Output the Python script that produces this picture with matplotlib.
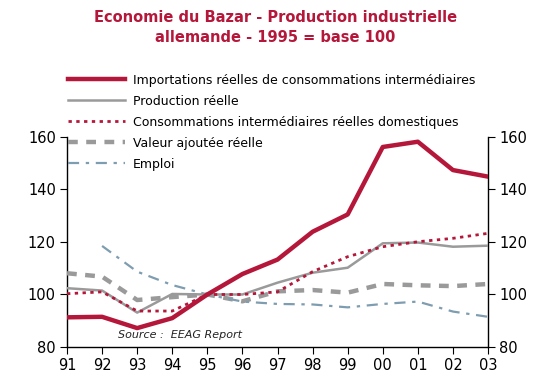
import matplotlib
matplotlib.use("Agg")
import matplotlib.pyplot as plt
import numpy as np

years = ["91", "92", "93", "94", "95", "96", "97", "98", "99", "00", "01", "02", "03"]
imports = [91.3, 91.5, 87.2, 91.0, 100.0, 107.8, 113.3, 123.9, 130.5, 156.2, 158.2, 147.4, 144.9]
production = [102.4, 101.5, 93.1, 100.2, 100.0, 100.0, 104.5, 108.3, 110.2, 119.5, 119.8, 118.2, 118.6]
domestic = [100.3, 101.0, 93.7, 93.7, 100.0, 100.0, 101.0, 108.7, 114.4, 118.2, 120.1, 121.4, 123.3]
value_added = [108.1, 106.8, 97.9, 99.0, 100.0, 97.4, 101.2, 101.7, 100.7, 104.0, 103.5, 103.2, 104.0]
emploi_years = years[1:]
emploi = [118.5, 108.7, 103.6, 100.0, 97.3, 96.4, 96.2, 95.1, 96.4, 97.3, 93.5, 91.5]

labels = ["Importations réelles de consommations intermédiaires",
          "Production réelle",
          "Consommations intermédiaires réelles domestiques",
          "Valeur ajoutée réelle",
          "Emploi"]

red = "#B5173A"
gray = "#9A9A9A"
blue = "#7F9DB0"

fig = plt.figure(figsize=(5.51, 3.88), dpi=100)
ax = fig.add_axes([0.1216, 0.1057, 0.7641, 0.5412])

x = np.arange(len(years))
xe = np.arange(1, len(years))
l1, = ax.plot(x, imports, color=red, lw=3.2, solid_joinstyle="round", zorder=5)
l2, = ax.plot(x, production, color=gray, lw=1.8, zorder=4)
l3, = ax.plot(x, domestic, color=red, lw=2.0, linestyle=(0, (1.2, 1.6)), zorder=4)
l4, = ax.plot(x, value_added, color=gray, lw=3.2, linestyle=(0, (2.2, 1.9)), zorder=3)
l5, = ax.plot(xe, emploi, color=blue, lw=1.6, linestyle=(0, (5, 3, 1.5, 3)), zorder=3)

ax.set_xlim(0, len(years) - 1)
ax.set_ylim(80, 160)
ax.set_xticks(x)
ax.set_xticklabels(years)
ax.set_yticks([80, 100, 120, 140, 160])
ax.spines["top"].set_visible(False)
for s in ["left", "right", "bottom"]:
    ax.spines[s].set_linewidth(1.0)
ax.tick_params(axis="both", direction="out", length=5, labelsize=10.5, colors="black", pad=3)
ax.tick_params(axis="y", which="both", left=True, right=True, labelleft=True, labelright=True)

ax.text(1.45, 83.3, "Source :  EEAG Report", style="italic", fontsize=8, color="#222222")

fig.text(0.5, 0.975, "Economie du Bazar - Production industrielle\nallemande - 1995 = base 100",
         ha="center", va="top", color=red, fontsize=10.5, fontweight="bold", linespacing=1.45)

leg = fig.legend([l1, l2, l3, l4, l5], labels, loc="upper left",
                 bbox_to_anchor=(0.123, 0.81), frameon=False, fontsize=9,
                 handlelength=4.6, handletextpad=0.6, labelspacing=0.64, borderaxespad=0,
                 borderpad=0)

fig.savefig("out.png", dpi=100)
